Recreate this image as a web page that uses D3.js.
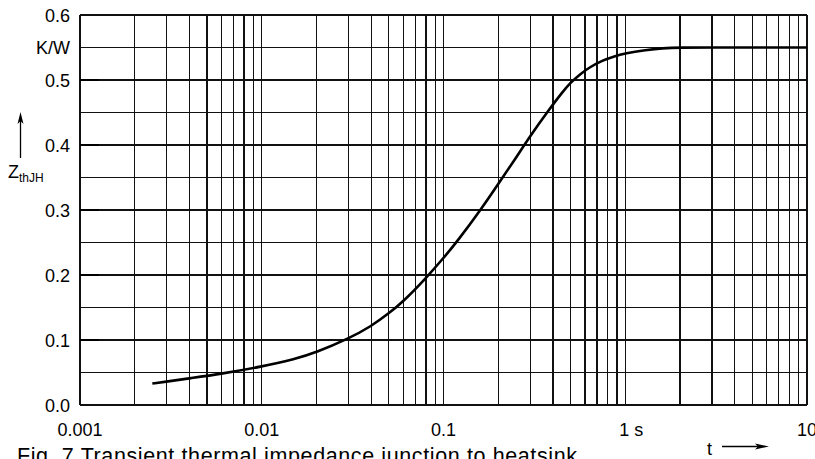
<!DOCTYPE html>
<html>
<head>
<meta charset="utf-8">
<script src="https://cdn.jsdelivr.net/npm/d3@7"></script>
<style>
  html, body { margin: 0; padding: 0; background: #fff; }
  svg { display: block; }
  text { font-family: "Liberation Sans", Arial, sans-serif; fill: #000; }
</style>
</head>
<body>
<svg id="chart" width="815" height="459"></svg>
<script>
// ---- data ----
const timeSeconds = [0.0025, 0.003, 0.004, 0.006, 0.01, 0.015, 0.02, 0.03, 0.04, 0.05, 0.06, 0.08, 0.1, 0.12, 0.16, 0.2, 0.25, 0.3, 0.38, 0.45, 0.5, 0.57, 0.64, 0.75, 0.86, 1.0, 1.3, 1.6, 2, 3, 5, 10];
const zthValues  = [0.033, 0.036, 0.041, 0.048, 0.059, 0.070, 0.081, 0.102, 0.121, 0.141, 0.159, 0.195, 0.226, 0.253, 0.300, 0.340, 0.380, 0.414, 0.454, 0.481, 0.496, 0.510, 0.520, 0.530, 0.536, 0.541, 0.546, 0.549, 0.55, 0.55, 0.55, 0.55];
const xTickValues = [0.001, 0.01, 0.1, 1, 10];
const xTickLabels = ["0.001", "0.01", "0.1", "1 s", "10"];
const yTickValues = [0, 0.1, 0.2, 0.3, 0.4, 0.5, 0.55, 0.6];
const yTickLabels = ["0.0", "0.1", "0.2", "0.3", "0.4", "0.5", "K/W", "0.6"];
const yMarkValues = [0.1, 0.2, 0.3, 0.4, 0.5];
const caption = "Fig. 7  Transient thermal impedance junction to heatsink";

(function () {
// ---- layout ----
const svg = d3.select("#chart");
const pL = 80, pR = 807, pT = 15, pB = 405;
const x = d3.scaleLog().domain([0.001, 10]).range([pL, pR]);
const y = d3.scaleLinear().domain([0, 0.6]).range([pB, pT]);

// grid: vertical lines at 1..9 x decade
const vLines = [];
for (let e = -3; e <= 0; e++) {
  for (let m = 1; m <= 9; m++) vLines.push(m * Math.pow(10, e));
}
vLines.push(10);
const hLines = d3.range(0, 0.6001, 0.05);

const grid = svg.append("g").attr("stroke", "#111").attr("stroke-width", 1.3).attr("shape-rendering", "crispEdges");
grid.selectAll("line.v").data(vLines).join("line")
  .attr("x1", d => x(d)).attr("x2", d => x(d))
  .attr("y1", pT).attr("y2", pB);
grid.selectAll("line.h").data(hLines).join("line")
  .attr("x1", pL).attr("x2", pR)
  .attr("y1", d => y(d)).attr("y2", d => y(d));

// inner tick marks on y axis
svg.append("g").attr("stroke", "#000").attr("stroke-width", 2)
  .selectAll("line").data(yMarkValues).join("line")
  .attr("x1", pL).attr("x2", pL + 19)
  .attr("y1", d => y(d)).attr("y2", d => y(d));

// curve
const pts = timeSeconds.map((t, i) => [t, zthValues[i]]);
svg.append("path")
  .datum(pts)
  .attr("fill", "none")
  .attr("stroke", "#000")
  .attr("stroke-width", 2.6)
  .attr("stroke-linejoin", "round")
  .attr("d", d3.line().x(d => x(d[0])).y(d => y(d[1])).curve(d3.curveBasis));

// y tick labels
svg.append("g").selectAll("text").data(yTickValues).join("text")
  .attr("x", 70).attr("y", d => y(d) + 6.5)
  .attr("text-anchor", "end")
  .attr("font-size", 18)
  .text((d, i) => yTickLabels[i]);

// x tick labels
svg.append("g").selectAll("text").data(xTickValues).join("text")
  .attr("x", (d, i) => x(d) + (xTickLabels[i].includes(" ") ? 6 : 0))
  .attr("y", 436)
  .attr("text-anchor", "middle")
  .attr("font-size", 18)
  .text((d, i) => xTickLabels[i]);

// y axis title with arrow
svg.append("line").attr("x1", 20.5).attr("x2", 20.5).attr("y1", 158).attr("y2", 118)
  .attr("stroke", "#000").attr("stroke-width", 1.3);
svg.append("path").attr("d", "M20.5,112 L17.5,124 L20.5,121 L23.5,124 Z").attr("fill", "#000");
const zt = svg.append("text").attr("x", 8).attr("y", 178).attr("font-size", 18);
zt.append("tspan").text("Z");
zt.append("tspan").attr("font-size", 12).attr("dy", 4).text("thJH");

// x axis title with arrow
svg.append("text").attr("x", 707).attr("y", 455).attr("font-size", 18).text("t");
svg.append("line").attr("x1", 722).attr("x2", 762).attr("y1", 446.5).attr("y2", 446.5)
  .attr("stroke", "#000").attr("stroke-width", 1.3);
svg.append("path").attr("d", "M769,446.5 L755,443.5 L758,446.5 L755,449.5 Z").attr("fill", "#000");

// caption
svg.append("text").attr("x", 17).attr("y", 463).attr("font-size", 21.5)
  .attr("textLength", 560).attr("lengthAdjust", "spacing").text(caption);
})();
</script>
</body>
</html>
